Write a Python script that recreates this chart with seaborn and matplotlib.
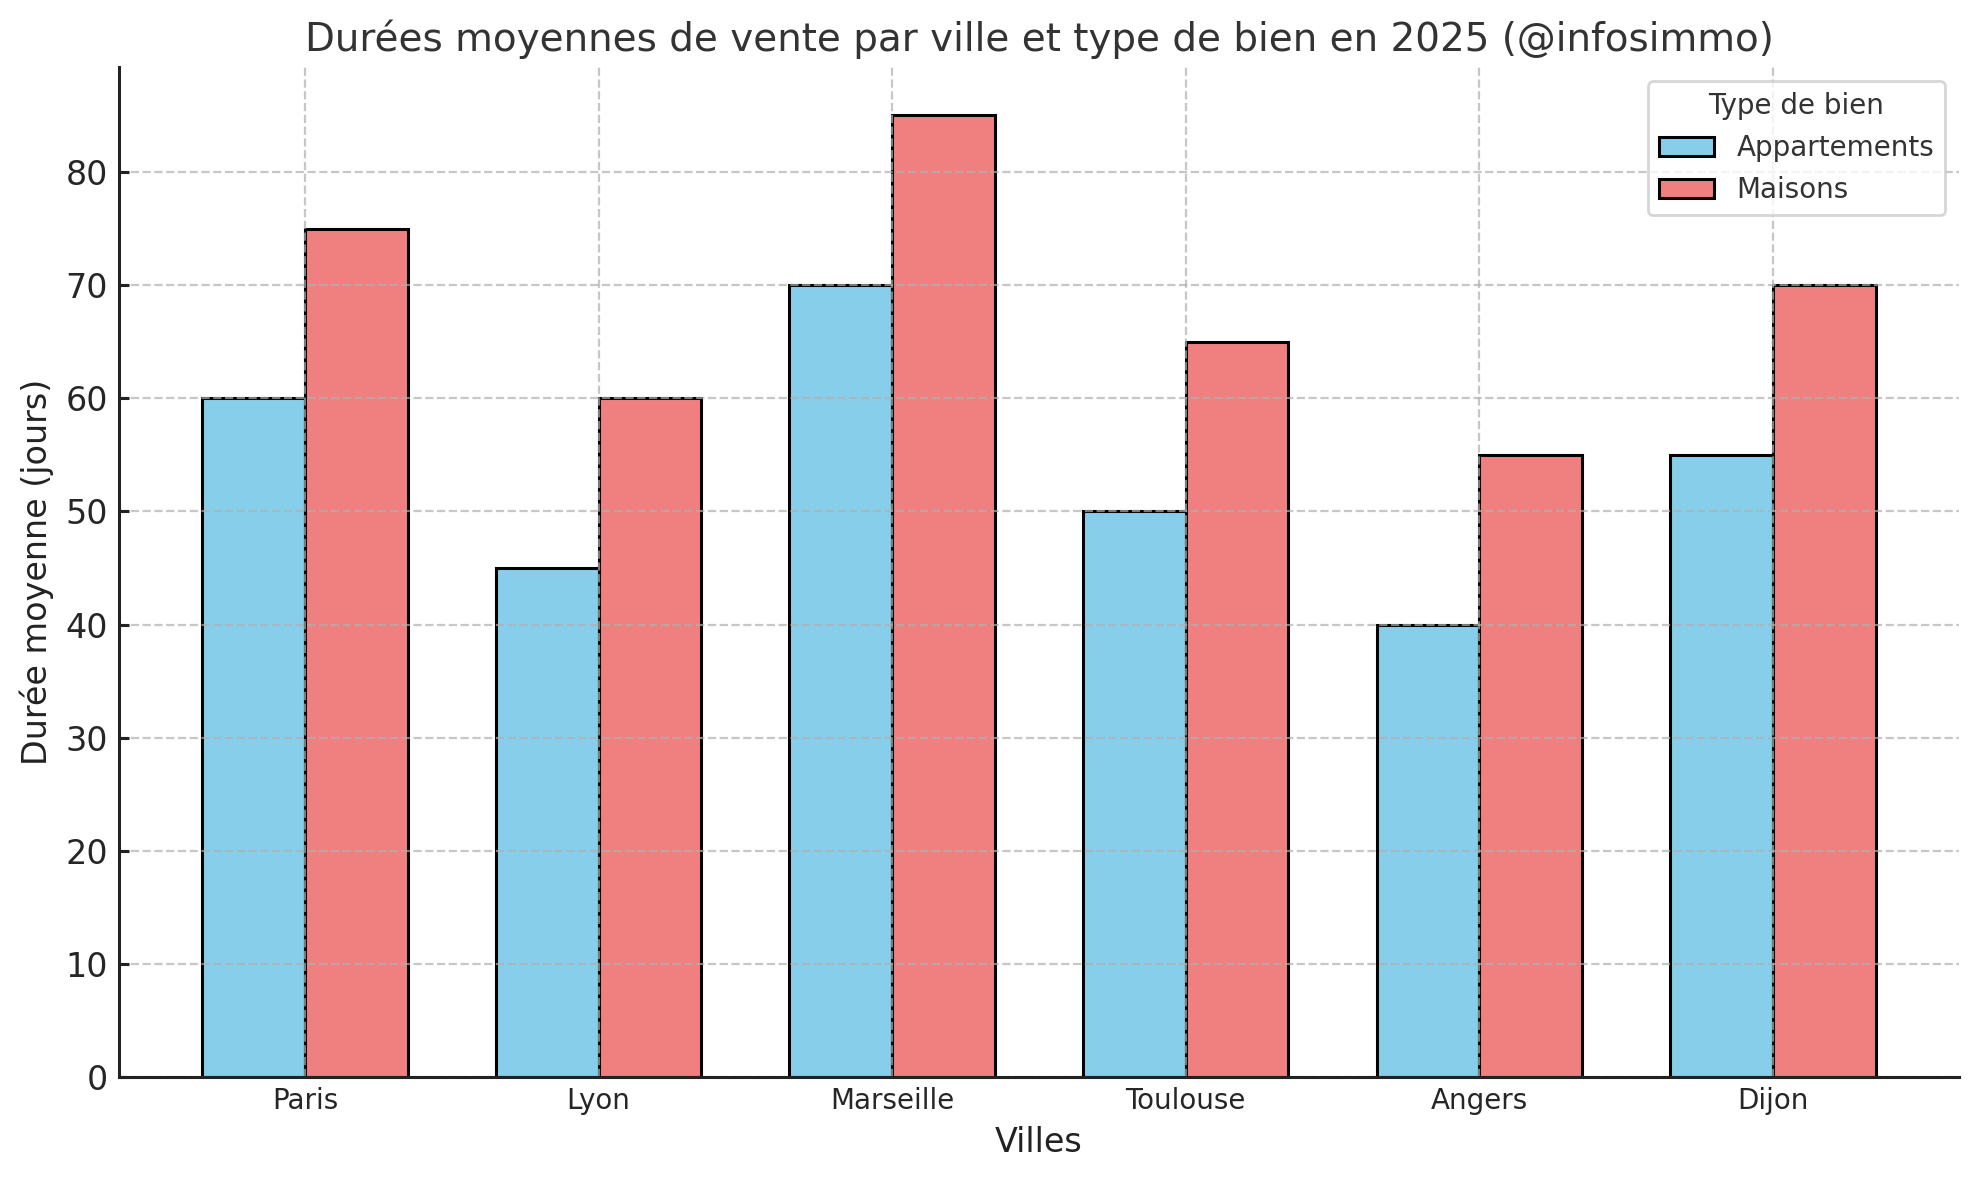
import matplotlib
matplotlib.use("Agg")
import matplotlib.pyplot as plt
import seaborn as sns
import pandas as pd

villes = ["Paris", "Lyon", "Marseille", "Toulouse", "Angers", "Dijon"]
appartements = [60, 45, 70, 50, 40, 55]
maisons = [75, 60, 85, 65, 55, 70]
types = ["Appartements", "Maisons"]
couleurs = ["#87CEEB", "#F08080"]

df = pd.DataFrame({
    "Ville": villes * 2,
    "Type": [types[0]] * len(villes) + [types[1]] * len(villes),
    "Duree": appartements + maisons,
})

sns.set_style("white")
plt.rcParams["font.family"] = ["DejaVu Sans"]
plt.rcParams["text.color"] = "#333333"
plt.rcParams["axes.labelcolor"] = "#222222"

fig, ax = plt.subplots(figsize=(9.895, 5.9), dpi=200)
sns.barplot(data=df, x="Ville", y="Duree", hue="Type", hue_order=types,
            palette=couleurs, width=0.7, edgecolor="black", linewidth=1.1,
            saturation=1, ax=ax)
ax.set_axisbelow("line")
ax.grid(True, axis="both", linestyle="--", color="#b0b0b0", alpha=0.7, linewidth=0.8)
sns.despine(ax=ax)
for s in ["left", "bottom"]:
    ax.spines[s].set_color("#222222")
    ax.spines[s].set_linewidth(1.1)

ax.set_title("Durées moyennes de vente par ville et type de bien en 2025 (@infosimmo)",
             fontsize=14, color="#333333")
ax.set_xlabel("Villes", fontsize=12)
ax.set_ylabel("Durée moyenne (jours)", fontsize=12)
ax.tick_params(axis="x", labelsize=10, length=0)
ax.tick_params(axis="y", labelsize=12, left=True, direction="in", length=3.5,
               width=1.1, color="#222222", pad=4)
ax.margins(x=0.05)
leg = ax.legend(title="Type de bien", fontsize=10, title_fontsize=10, loc="upper right")

plt.subplots_adjust(left=0.06, right=0.99, top=0.943, bottom=0.087)
fig.savefig("out.png", dpi=200)
